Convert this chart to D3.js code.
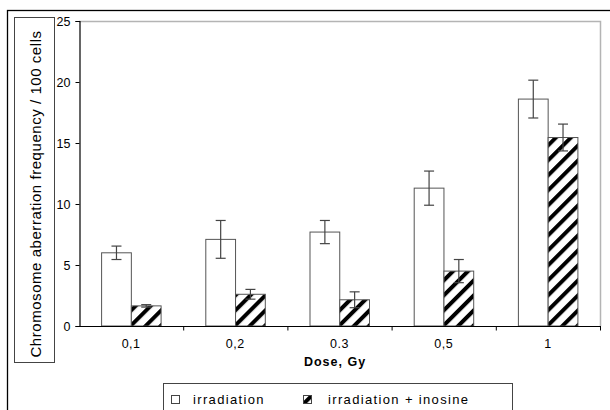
<!DOCTYPE html>
<html>
<head>
<meta charset="utf-8">
<script src="https://cdn.jsdelivr.net/npm/d3@7"></script>
<style>
  body { margin: 0; background: #fff; }
  svg { display: block; font-family: "Liberation Sans", Arial, sans-serif; }
</style>
</head>
<body>
<svg id="chart" width="610" height="410"></svg>
<script>
// values
const doses = ["0,1", "0,2", "0.3", "0,5", "1"]
const series = ["irradiation", "irradiation + inosine"]
const irradiation = [6.0, 7.1, 7.7, 11.3, 18.6]
const irradiationErr = [0.55, 1.55, 0.95, 1.4, 1.55]
const inosine = [1.65, 2.6, 2.15, 4.5, 15.45]
const inosineErr = [0.1, 0.4, 0.65, 0.95, 1.1]
const yTicks = [0, 5, 10, 15, 20, 25]

const svg = d3.select("#chart")

const plot = {left: 79, right: 600, top: 21, bottom: 326}

// hatch pattern
const defs = svg.append("defs")
defs.append("pattern")
  .attr("id", "hatch")
  .attr("patternUnits", "userSpaceOnUse")
  .attr("width", 10.6).attr("height", 10.6)
  .attr("patternTransform", "rotate(45)")
  .call(p => {
    p.append("rect").attr("width", 10.6).attr("height", 10.6).attr("fill", "#fff")
    p.append("rect").attr("width", 4).attr("height", 10.6).attr("fill", "#000")
  })

// outer frame
svg.append("rect")
  .attr("x", 7.5).attr("y", 10.5).attr("width", 700).attr("height", 500)
  .attr("fill", "#fff").attr("stroke", "#000").attr("stroke-width", 1.3)

const x = d3.scaleBand().domain(doses).range([plot.left, plot.right]).padding(0)
const bw = x.bandwidth()
const xs = d3.scaleBand().domain(series).range([bw / 2 - 30, bw / 2 + 29.5])
const y = d3.scaleLinear().domain([0, 25]).range([plot.bottom, plot.top])

// plot frame (top + right)
svg.append("path")
  .attr("d", `M${plot.left},${plot.top + 0.5}H${plot.right + 0.5}V${plot.bottom}`)
  .attr("fill", "none").attr("stroke", "#b4b4b4").attr("stroke-width", 1.5)

// bars
const rows = doses.map((d, i) => ({
  dose: d,
  vals: [
    {s: series[0], v: irradiation[i], e: irradiationErr[i]},
    {s: series[1], v: inosine[i], e: inosineErr[i]}
  ]
}))

const groups = svg.append("g").selectAll("g")
  .data(rows).enter().append("g")
  .attr("transform", d => `translate(${x(d.dose)},0)`)

groups.selectAll("rect")
  .data(d => d.vals).enter().append("rect")
  .attr("x", d => xs(d.s) + 0.5)
  .attr("y", d => y(d.v))
  .attr("width", xs.bandwidth())
  .attr("height", d => y(0) - y(d.v))
  .attr("fill", (d, i) => i === 0 ? "#fff" : "url(#hatch)")
  .attr("stroke", "#555").attr("stroke-width", 1)

// error bars
const err = groups.selectAll("g.err")
  .data(d => d.vals).enter().append("g").attr("class", "err")
  .attr("stroke", "#444").attr("stroke-width", 1.2)
err.append("line")
  .attr("x1", d => xs(d.s) + xs.bandwidth() / 2 + 0.5)
  .attr("x2", d => xs(d.s) + xs.bandwidth() / 2 + 0.5)
  .attr("y1", d => y(d.v + d.e)).attr("y2", d => y(d.v - d.e))
err.selectAll("line.cap")
  .data(d => [[d, d.v + d.e], [d, d.v - d.e]]).enter().append("line").attr("class", "cap")
  .attr("x1", d => xs(d[0].s) + xs.bandwidth() / 2 - 4.5)
  .attr("x2", d => xs(d[0].s) + xs.bandwidth() / 2 + 5.5)
  .attr("y1", d => y(d[1])).attr("y2", d => y(d[1]))

// y axis
const yAxis = svg.append("g")
  .attr("transform", `translate(${plot.left + 0.5},0)`)
  .call(d3.axisLeft(y).tickValues(yTicks).tickSize(4).tickPadding(5))
yAxis.select(".domain").attr("stroke", "#000").attr("stroke-width", 1.2)
yAxis.selectAll(".tick line").attr("stroke", "#000")
yAxis.selectAll("text").attr("font-size", 12.5).attr("fill", "#000")
  .attr("font-family", "Liberation Sans, Arial, sans-serif")

// x axis: ticks between categories
const xAxis = svg.append("g")
  .attr("transform", `translate(0,${plot.bottom + 0.5})`)
xAxis.append("line")
  .attr("x1", plot.left).attr("x2", plot.right + 1)
  .attr("stroke", "#000").attr("stroke-width", 1.2)
xAxis.selectAll("line.tick")
  .data(doses.slice(1)).enter().append("line").attr("class", "tick")
  .attr("x1", d => x(d) + 0.5).attr("x2", d => x(d) + 0.5)
  .attr("y1", 0).attr("y2", 4).attr("stroke", "#000")
xAxis.append("line")
  .attr("x1", plot.right + 0.5).attr("x2", plot.right + 0.5)
  .attr("y1", 0).attr("y2", 4).attr("stroke", "#000")
xAxis.selectAll("text")
  .data(doses).enter().append("text")
  .attr("x", d => x(d) + bw / 2)
  .attr("y", 21)
  .attr("text-anchor", "middle")
  .attr("font-size", 12.5).attr("letter-spacing", 0.5)
  .text(d => d)

// x title
svg.append("text")
  .attr("x", 335).attr("y", 366)
  .attr("text-anchor", "middle")
  .attr("font-size", 12.5).attr("font-weight", "bold").attr("letter-spacing", 1)
  .text("Dose, Gy")

// y title in a box
svg.append("rect")
  .attr("x", 14.5).attr("y", 17.5).attr("width", 40).attr("height", 345)
  .attr("fill", "#fff").attr("stroke", "#444").attr("stroke-width", 1)
svg.append("text")
  .attr("transform", "translate(40.5,194) rotate(-90)")
  .attr("text-anchor", "middle")
  .attr("font-size", 15).attr("letter-spacing", 0.55)
  .text("Chromosome aberration frequency / 100 cells")

// legend
const legend = svg.append("g")
legend.append("rect")
  .attr("x", 163.5).attr("y", 383.5).attr("width", 349).attr("height", 60)
  .attr("fill", "#fff").attr("stroke", "#444").attr("stroke-width", 1)
const legX = [171, 303]
const legT = [193, 328]
series.forEach((s, i) => {
  legend.append("rect")
    .attr("x", legX[i] + 0.5).attr("y", 395.5).attr("width", 8).attr("height", 8)
    .attr("fill", i === 0 ? "#fff" : "url(#hatch)")
    .attr("stroke", "#444").attr("stroke-width", 1)
  legend.append("text")
    .attr("x", legT[i]).attr("y", 404)
    .attr("font-size", 13).attr("letter-spacing", 1.35)
    .text(s)
})
</script>
</body>
</html>
